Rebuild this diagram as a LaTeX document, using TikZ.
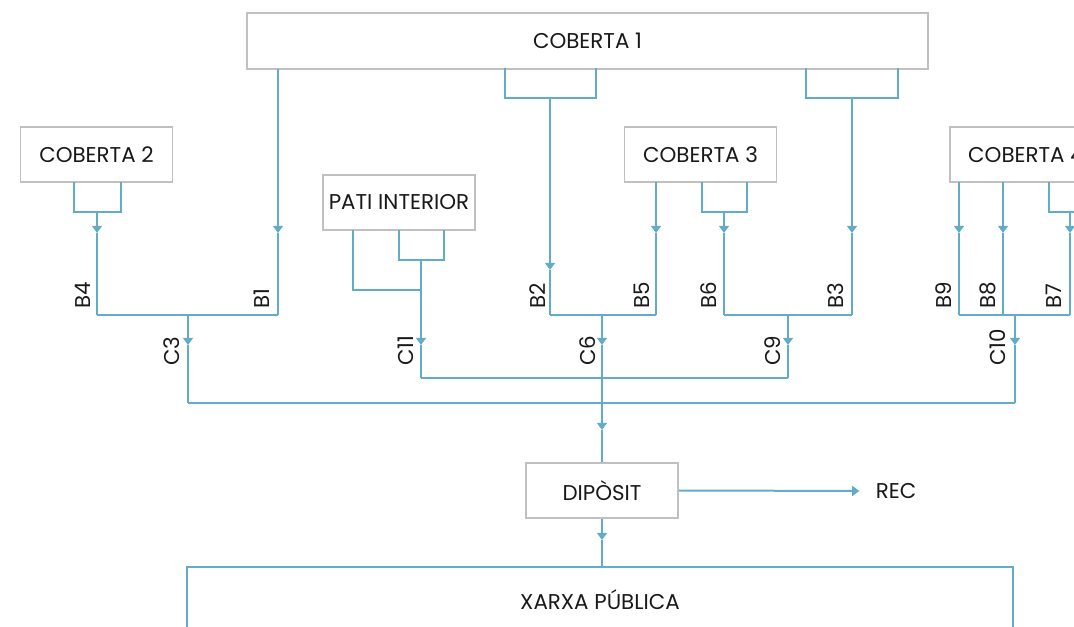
\documentclass[tikz,border=0pt]{standalone}
\usepackage{fontspec}
\setmainfont{Poppins}
\usetikzlibrary{arrows.meta}
\definecolor{pipeblue}{RGB}{98,172,202}
\definecolor{boxgrey}{RGB}{192,192,192}
\definecolor{inkgrey}{RGB}{25,25,25}
\tikzset{
  base/.style={font=\fontsize{10.7}{12}\selectfont, text=inkgrey, inner sep=0pt},
  box/.style={base, rectangle, draw=boxgrey, fill=white, line width=0.8pt, minimum width=76pt, minimum height=27.5pt},
  tank/.style={box, draw=pipeblue, line width=1pt},
  pipe/.style={draw=pipeblue, line width=1pt},
  arr/.style={pipe, -{Triangle[length=3.6pt,width=5pt]}},
  lbl/.style={base, rotate=90, anchor=west},
}
\begin{document}
\begin{tikzpicture}[x=0.5pt,y=-0.5pt]
  \clip (0,0) rectangle (1074,626);
  % roofs and tanks
  \node[box,minimum width=340.5pt,minimum height=28pt] (cob1) at (587.5,41) {COBERTA 1};
  \node[box] (cob2) at (96.5,154.5) {COBERTA 2};
  \node[box] (pati) at (399,202.5) {PATI INTERIOR};
  \node[box] (cob3) at (700.5,154.5) {COBERTA 3};
  \node[box] (cob4) at (1026,154.5) {COBERTA 4};
  \node[box] (dip) at (602,490.5) {DIPÒSIT};
  \node[tank,minimum width=413pt,minimum height=33pt] (xarxa) at (600,600) {XARXA PÚBLICA};
  \node[base] (rec) at (896,491) {REC};
  % rows
  \coordinate (rowA) at (0,233);
  \coordinate (rowB) at (0,270);
  \coordinate (rowC) at (0,345);
  \coordinate (rowD) at (0,430);
  \coordinate (rowE) at (0,540);
  \coordinate (rowP) at (0,290);
  \coordinate (row1) at (0,315);
  \coordinate (row2) at (0,378);
  \coordinate (row3) at (0,403);
  % drop points
  \coordinate (b1s) at (278,69);
  \coordinate (b2s) at (550,98);
  \coordinate (b3s) at (852,98);
  \coordinate (b4s) at (97,212);
  \coordinate (b5s) at (656,182);
  \coordinate (b6s) at (724,212);
  \coordinate (b7s) at (1070,212);
  \coordinate (b8s) at (1003,182);
  \coordinate (b9s) at (959,182);
  \coordinate (c11s) at (421,260);
  \coordinate (patil) at (353,230);
  \coordinate (c3s) at (188,315);
  \coordinate (c6s) at (602,315);
  \coordinate (c9s) at (788,315);
  \coordinate (c10s) at (1015,315);
  % brackets under the boxes
  \foreach \c/\w in {b2s/45.5,b3s/46,b4s/23.5,b6s/22.5,b7s/21.5,c11s/22.5}
    {\draw[pipe] (\c) ++(-\w,-30) -- ++(0,30) -- ++({2*\w},0) -- ++(0,-30);}
  \draw[pipe] (patil) |- (c11s |- rowP);
  % downpipes
  \foreach \s/\r/\e in {b1s/rowA/row1,b2s/rowB/row1,b3s/rowA/row1,b4s/rowA/row1,b5s/rowA/row1,
      b6s/rowA/row1,b7s/rowA/row1,b8s/rowA/row1,b9s/rowA/row1,
      c3s/rowC/row3,c11s/rowC/row2,c9s/rowC/row2,c10s/rowC/row3}
    {\draw[arr] (\s) -- (\s |- \r); \draw[pipe] (\s |- \r) -- (\s |- \e);}
  % collectors
  \draw[pipe] (b4s |- row1) -- (b1s |- row1);
  \draw[pipe] (b2s |- row1) -- (b5s |- row1);
  \draw[pipe] (b6s |- row1) -- (b3s |- row1);
  \draw[pipe] (b9s |- row1) -- (b7s |- row1);
  \draw[pipe] (c11s |- row2) -- (c9s |- row2);
  \draw[pipe] (c3s |- row3) -- (c10s |- row3);
  % to the tank and out
  \draw[arr] (c6s) -- (c6s |- rowC);
  \draw[arr] (c6s |- rowC) -- (c6s |- rowD);
  \draw[pipe] (c6s |- rowD) -- (dip.north);
  \draw[arr] (dip.south) -- (dip.south |- rowE);
  \draw[pipe] (dip.south |- rowE) -- (dip.south |- xarxa.north);
  \draw[arr,shorten >=8pt] (dip.east) -- (rec.west);
  % pipe labels
  \foreach \t/\x in {B4/83,B1/262,B2/538,B5/642,B6/709,B3/836,B9/944,B8/988,B7/1054}
    {\node[lbl] (lab\t) at (\x,309) {\t};}
  \foreach \t/\x in {C3/172,C11/406,C6/588,C9/773,C10/998}
    {\node[lbl] (lab\t) at (\x,366) {\t};}
\end{tikzpicture}
\end{document}
